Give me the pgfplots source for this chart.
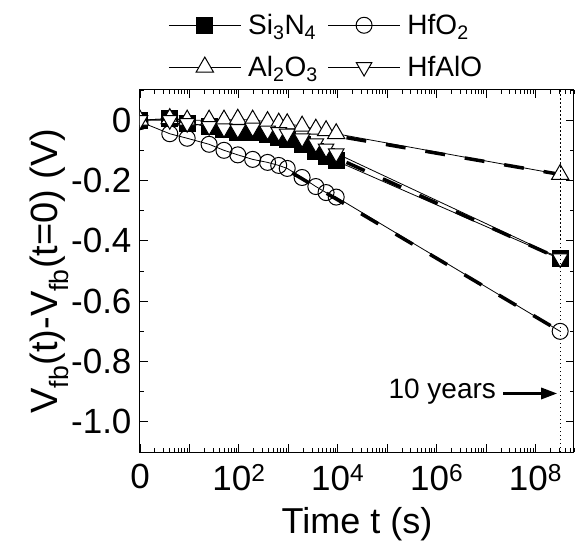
\documentclass[border=0pt]{standalone}
\usepackage{fontspec}
\setmainfont{Liberation Sans}
\usepackage{pgfplots}
\pgfplotsset{compat=1.18}
\usetikzlibrary{arrows.meta}
\begin{document}
\begin{tikzpicture}
\begin{axis}[
  name=ax,
  scale only axis, width=434pt, height=362pt,
  xmode=log, xmin=1, xmax=6e8, ymin=-1.1, ymax=0.1,
  xtick={1,1e1,1e2,1e3,1e4,1e5,1e6,1e7,1e8},
  xticklabels={0,,10\textsuperscript{2},,10\textsuperscript{4},,10\textsuperscript{6},,10\textsuperscript{8}},
  minor xtick={2,3,4,5,6,7,8,9,20,30,40,50,60,70,80,90,200,300,400,500,600,700,800,900,
    2e3,3e3,4e3,5e3,6e3,7e3,8e3,9e3,2e4,3e4,4e4,5e4,6e4,7e4,8e4,9e4,2e5,3e5,4e5,5e5,6e5,7e5,8e5,9e5,
    2e6,3e6,4e6,5e6,6e6,7e6,8e6,9e6,2e7,3e7,4e7,5e7,6e7,7e7,8e7,9e7,2e8,3e8,4e8,5e8,6e8},
  ytick={-1,-0.8,-0.6,-0.4,-0.2,0},
  yticklabels={-1.0,-0.8,-0.6,-0.4,-0.2,0},
  minor ytick={-1.1,-0.9,-0.7,-0.5,-0.3,-0.1,0.1},
  tick style={black, line width=0.8pt},
  major tick length=8pt, minor tick length=4pt,
  tick label style={font=\fontsize{35}{40}\selectfont},
  xticklabel style={yshift=-9pt},
  yticklabel style={xshift=-5pt},
  xlabel style={font=\fontsize{36}{40}\selectfont, yshift=-10pt},
  ylabel style={font=\fontsize{38}{42}\selectfont, yshift=-4pt},
  xlabel={Time t (s)},
  ylabel={V\textsubscript{fb}(t)-V\textsubscript{fb}(t=0) (V)},
  axis line style={line width=1pt},
  clip marker paths=true,
  legend columns=2,
  legend cell align=left,
  legend style={draw=none, fill=none, at={(0.065,1.215)}, anchor=north west,
    font=\fontsize{28}{30}\selectfont, inner sep=0pt, row sep=16pt,
    /tikz/every odd column/.append style={column sep=5pt},
    /tikz/every even column/.append style={column sep=8pt}},
  legend image code/.code={\draw[mark repeat=2,mark phase=2] plot coordinates {(0pt,0pt) (36pt,0pt) (72pt,0pt)};},
]
% Si3N4
\addplot[black, line width=0.8pt, mark=square*, mark size=8pt, mark options={solid, fill=black, line width=1pt}]
coordinates {(1,0) (4,0.005) (9,-0.01) (25,-0.02) (50,-0.03) (95,-0.04) (190,-0.042) (380,-0.047) (640,-0.057) (950,-0.065) (1900,-0.08) (3600,-0.103) (5800,-0.12) (9300,-0.135) (3.15e8,-0.46)};
\addlegendentry{Si\textsubscript{3}N\textsubscript{4}}
% HfO2
\addplot[black, line width=0.8pt, mark=o, mark size=8pt, mark options={solid, fill=white, line width=1pt}]
coordinates {(1,-0.005) (4,-0.045) (9,-0.06) (25,-0.08) (50,-0.10) (95,-0.115) (190,-0.13) (380,-0.14) (640,-0.15) (950,-0.16) (1900,-0.19) (3600,-0.22) (5800,-0.24) (9300,-0.255) (3.15e8,-0.70)};
\addlegendentry{HfO\textsubscript{2}}
% Al2O3
\addplot[black, line width=0.8pt, mark=triangle*, mark size=10pt, mark options={solid, fill=white, line width=1pt}]
coordinates {(1,0) (4,0.005) (9,0.0) (25,0.0) (50,0.0) (95,0.003) (190,0.0) (380,-0.005) (640,-0.01) (950,-0.012) (1900,-0.02) (3600,-0.03) (5800,-0.035) (9300,-0.045) (3.15e8,-0.18)};
\addlegendentry{Al\textsubscript{2}O\textsubscript{3}}
% HfAlO
\addplot[black, line width=0.8pt, mark=triangle*, mark size=9pt, mark options={solid, fill=white, line width=1pt, rotate=180}]
coordinates {(1,0) (4,0.0) (9,-0.01) (25,-0.02) (50,-0.027) (95,-0.03) (190,-0.025) (380,-0.035) (640,-0.04) (950,-0.045) (1900,-0.06) (3600,-0.077) (5800,-0.094) (9300,-0.11) (3.15e8,-0.458)};
\addlegendentry{HfAlO}
% fits
\addplot[forget plot, black, line width=3.5pt, dash pattern=on 20pt off 20pt] coordinates {(1.5e4,-0.058) (2.5e8,-0.177)};
\addplot[forget plot, black, line width=3.5pt, dash pattern=on 20pt off 20pt] coordinates {(1.5e4,-0.14) (3.15e8,-0.46)};
\addplot[forget plot, black, line width=3.5pt, dash pattern=on 20pt off 20pt] coordinates {(1200,-0.175) (3.15e8,-0.70)};
% 10 years
\addplot[forget plot, black, line width=0.8pt, dash pattern=on 1.5pt off 2.5pt] coordinates {(3.15e8,-1.1) (3.15e8,0.1)};
\draw[line width=3pt, -{Triangle[length=16pt,width=11pt]}] (axis cs:2.2e7,-0.906) -- (axis cs:2.75e8,-0.906);
\node[anchor=base east, font=\fontsize{28}{30}\selectfont, inner sep=0pt] at (axis cs:1.6e7,-0.923) {10 years};
\end{axis}
\pgfresetboundingbox
\path ([shift={(-140pt,-92pt)}]ax.south west) rectangle ([shift={(2pt,90pt)}]ax.north east);
\end{tikzpicture}
\end{document}
